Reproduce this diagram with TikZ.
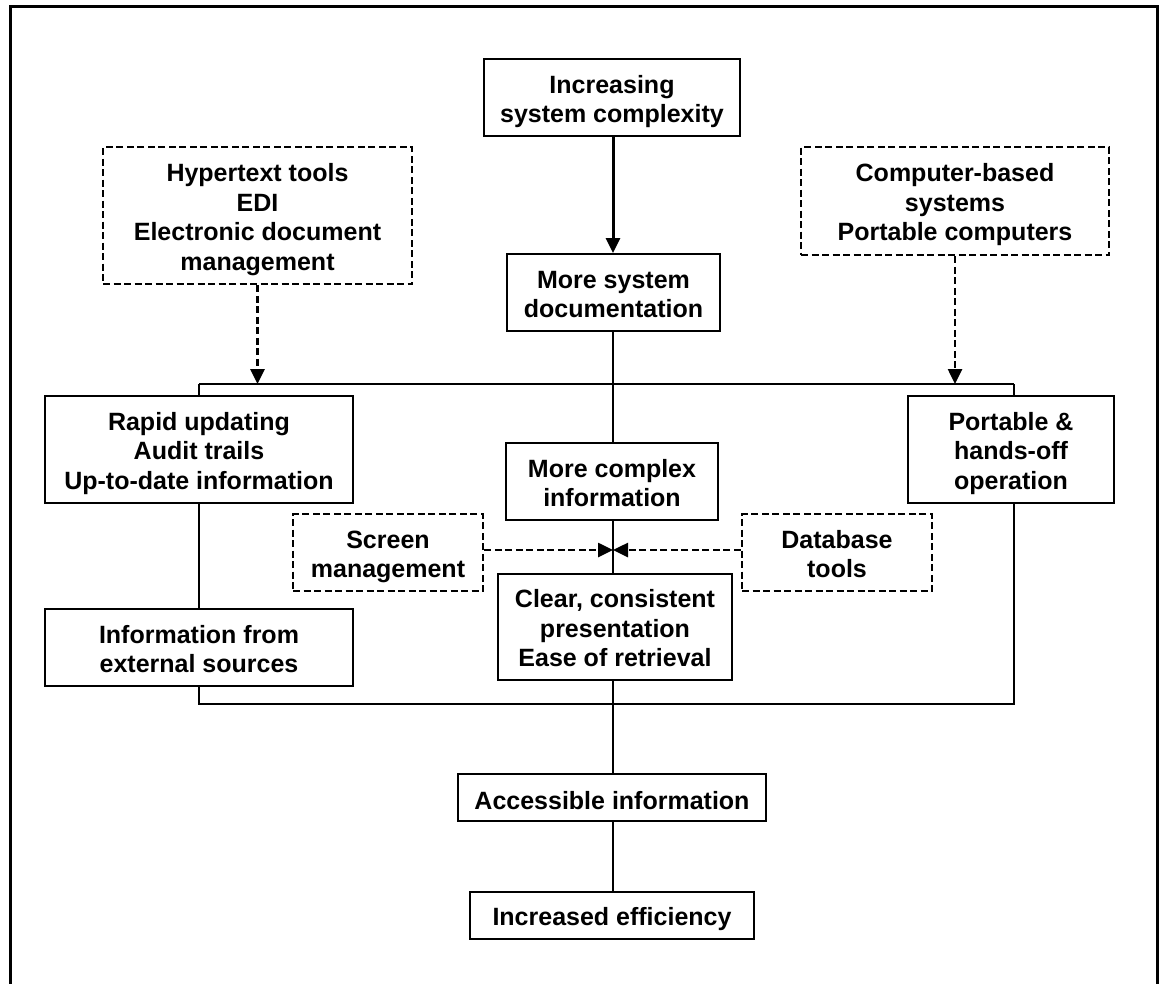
\documentclass[tikz,border=0pt]{standalone}
\usepackage{fontspec}
\setmainfont{Liberation Sans}
\usetikzlibrary{arrows.meta}
\newcommand{\mlines}[1]{\begin{tabular}{@{}c@{}}\rule{0pt}{29.5pt}#1\end{tabular}}
\begin{document}
\begin{tikzpicture}[x=1pt,y=-1pt,
  base/.style={draw, line width=2pt, fill=white, inner sep=0pt,
    font=\bfseries\fontsize{25}{29.5}\selectfont},
  box/.style={base},
  onebox/.style={base, execute at begin node={\rule{0pt}{24.5pt}}},
  dbox/.style={base, line width=2.6pt, dash pattern=on 7pt off 3.5pt},
  conn/.style={line width=2pt},
  tip/.style={-{Triangle[length=15pt,width=14pt]}},
  dconn/.style={line width=2.6pt, dash pattern=on 7pt off 3.5pt, tip},
  frame/.style={line width=3pt}]
\useasboundingbox (0,0) rectangle (1161,983);
\draw[frame] (10,990) -- (10,6) -- (1157,6) -- (1157,990);

% nodes
\node[box, minimum width=256pt, minimum height=77pt] (inc) at (612,97.5) {\mlines{Increasing\\system complexity}};
\node[box, minimum width=213pt, minimum height=77pt] (msd) at (613.5,292.5) {\mlines{More system\\documentation}};
\node[dbox, minimum width=309pt, minimum height=137pt] (hyp) at (257.5,215.5) {\mlines{Hypertext tools\\EDI\\Electronic document\\management}};
\node[dbox, minimum width=308pt, minimum height=108pt] (cbs) at (955,201) {\mlines{Computer-based\\systems\\Portable computers}};
\node[box, minimum width=308pt, minimum height=107pt] (rapid) at (199,449.5) {\mlines{Rapid updating\\Audit trails\\Up-to-date information}};
\node[box, minimum width=206pt, minimum height=107pt] (port) at (1011,449.5) {\mlines{Portable \&\\hands-off\\operation}};
\node[box, minimum width=212pt, minimum height=77pt] (mci) at (612,481.5) {\mlines{More complex\\information}};
\node[dbox, minimum width=190pt, minimum height=77pt] (scr) at (388,552.5) {\mlines{Screen\\management}};
\node[dbox, minimum width=190pt, minimum height=77pt] (db) at (837,552.5) {\mlines{Database\\tools}};
\node[box, minimum width=308pt, minimum height=77pt] (ext) at (199,647.5) {\mlines{Information from\\external sources}};
\node[box, minimum width=234pt, minimum height=106pt] (clear) at (615,627) {\mlines{Clear, consistent\\presentation\\Ease of retrieval}};
\node[onebox, minimum width=308pt, minimum height=47pt] (acc) at (612,797.5) {Accessible information};
\node[onebox, minimum width=284pt, minimum height=47pt] (eff) at (612,915.5) {Increased efficiency};

% coordinates
\coordinate (tl) at (199,384);
\coordinate (tr) at (1014,384);
\coordinate (bl) at (199,704);
\coordinate (br) at (1014,704);
\coordinate (meet) at (613,550);

% connectors
\draw[line width=3pt, tip] (inc.south -| meet) -- (msd.north -| meet);
\draw[conn] (tl) -- (tr);
\draw[conn] (tl) -- (rapid.north -| tl);
\draw[conn] (tr) -- (port.north -| tr);
\draw[conn] (rapid.south -| tl) -- (ext.north -| tl);
\draw[conn] (ext.south -| tl) -- (bl) -- (br) -- (port.south -| tr);
\draw[conn] (msd.south -| meet) -- (mci.north -| meet);
\draw[conn] (mci.south -| meet) -- (clear.north -| meet);
\draw[conn] (clear.south -| meet) -- (acc.north -| meet);
\draw[conn] (acc.south -| meet) -- (eff.north -| meet);

\draw[dconn] (hyp.south) -- (hyp.south |- tl);
\draw[dconn] (cbs.south) -- (cbs.south |- tr);
\draw[dconn] (scr.east |- meet) -- (meet);
\draw[dconn] (db.west |- meet) -- (meet);
\end{tikzpicture}
\end{document}
